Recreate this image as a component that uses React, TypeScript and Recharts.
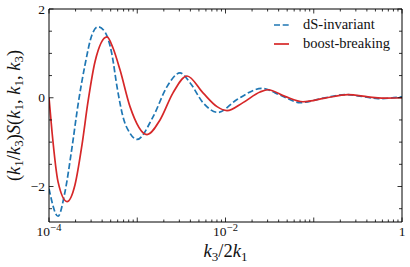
import React from 'react';
import { LineChart, Line, XAxis, YAxis } from 'recharts';

// dS-invariant (dashed blue)
const dsK = [1.0e-4, 1.265e-4, 1.518e-4, 1.823e-4, 2.132e-4, 2.558e-4, 3.071e-4, 3.592e-4, 4.311e-4, 5.175e-4, 5.895e-4, 6.895e-4, 8.277e-4, 9.936e-4, 1.509e-3, 2.174e-3, 3.051e-3, 3.96e-3, 5.559e-3, 8.222e-3, 1.35e-2, 2.593e-2, 4.367e-2, 6.985e-2, 0.134, 0.226, 0.381, 0.535, 1];
const dsS = [-2.05, -2.67, -2.12, -1.12, -0.16, 0.74, 1.42, 1.6, 1.48, 0.97, 0.25, -0.43, -0.8, -0.94, -0.43, 0.25, 0.56, 0.34, -0.11, -0.33, -0.04, 0.21, 0.04, -0.11, 0.0, 0.07, 0.02, -0.02, 0.02];

// boost-breaking (solid red)
const bbK = [1.0e-4, 1.081e-4, 1.265e-4, 1.6e-4, 1.971e-4, 2.365e-4, 2.767e-4, 3.321e-4, 4.541e-4, 5.311e-4, 6.375e-4, 8.277e-4, 1.29e-3, 1.811e-3, 2.542e-3, 3.662e-3, 5.559e-3, 8.013e-3, 1.04e-2, 1.579e-2, 2.461e-2, 3.032e-2, 4.724e-2, 7.553e-2, 0.134, 0.244, 0.412, 0.593, 1];
const bbS = [0.0, -0.76, -1.89, -2.34, -1.96, -1.06, -0.09, 0.81, 1.37, 1.12, 0.63, -0.2, -0.83, -0.5, 0.11, 0.49, 0.11, -0.2, -0.29, -0.11, 0.13, 0.18, 0.03, -0.09, -0.01, 0.07, 0.02, -0.01, 0.0];

const xMajor = [1e-4, 1e-3, 1e-2, 1e-1, 1];
const xLabels: Record<string, [string, string]> = { '0.0001': ['10', '−4'], '0.01': ['10', '−2'], '1': ['1', ''] };
const yMajor = [-2, 0, 2];
const yMinor = [-2.5, -1.5, -1, -0.5, 0.5, 1, 1.5];
const yLabels: Record<string, string> = { '-2': '−2', '0': '0', '2': '2' };

const xMinor: number[] = [];
for (let d = 0; d < 4; d++) {
  for (let m = 2; m < 10; m++) xMinor.push(Number((m * Math.pow(10, d - 4)).toPrecision(3)));
}
const xTicks = [...xMajor, ...xMinor].sort((a, b) => a - b);
const yTicks = [...yMajor, ...yMinor].sort((a, b) => a - b);

const dsData = dsK.map((k, i) => ({ k, s: dsS[i] }));
const bbData = bbK.map((k, i) => ({ k, s: bbS[i] }));

const BLUE = '#1f77b4';
const RED = '#d62728';
const INK = '#111';
const txt = { fontFamily: 'Liberation Serif' };

const isMajorX = (v: number) => xMajor.some((m) => Math.abs(m - v) / m < 1e-6);
const isMajorY = (v: number) => yMajor.includes(v);

const BottomTick = ({ x, y, payload }: any) => {
  const v = payload.value;
  const major = isMajorX(v);
  const lab = xLabels[String(v)];
  return (
    <g>
      <line x1={x} x2={x} y1={y} y2={y - (major ? 4.5 : 2.5)} stroke="#000" strokeWidth={0.8} />
      {lab && (
        <text x={x} y={y + 14} textAnchor="middle" style={txt} fontSize={13.5} fill={INK}>
          {lab[0]}
          {lab[1] && <tspan dy={-5.5} dx={0.5} fontSize={10.5}>{lab[1]}</tspan>}
        </text>
      )}
    </g>
  );
};

const TopTick = ({ x, y, payload }: any) => {
  const major = isMajorX(payload.value);
  return <line x1={x} x2={x} y1={y} y2={y + (major ? 4.5 : 2.5)} stroke="#000" strokeWidth={0.8} />;
};

const LeftTick = ({ x, y, payload }: any) => {
  const v = payload.value;
  const major = isMajorY(v);
  return (
    <g>
      <line x1={x} x2={x + (major ? 4.5 : 3)} y1={y} y2={y} stroke="#000" strokeWidth={0.8} />
      {major && (
        <text x={x - 4} y={y + 4.5} textAnchor="end" style={txt} fontSize={13.5} fill={INK}>
          {yLabels[String(v)]}
        </text>
      )}
    </g>
  );
};

const RightTick = ({ x, y, payload }: any) => {
  const major = isMajorY(payload.value);
  return <line x1={x} x2={x - (major ? 4.5 : 3)} y1={y} y2={y} stroke="#000" strokeWidth={0.8} />;
};

const Sub = ({ children }: any) => (
  <tspan fontStyle="normal" fontSize={13} dy={4}>{children}</tspan>
);

const YTitle = ({ viewBox }: any) => {
  const cx = 14;
  const cy = viewBox.y + viewBox.height / 2;
  return (
    <text x={cx} y={cy} transform={`rotate(-90 ${cx} ${cy})`} textAnchor="middle" dominantBaseline="central" style={txt} fontSize={18.5} fill={INK}>
      <tspan>(</tspan><tspan fontStyle="italic">k</tspan><Sub>1</Sub>
      <tspan dy={-4}>/</tspan><tspan fontStyle="italic">k</tspan><Sub>3</Sub>
      <tspan dy={-4}>)</tspan><tspan fontStyle="italic">S</tspan><tspan>(</tspan>
      <tspan fontStyle="italic">k</tspan><Sub>1</Sub><tspan dy={-4}>, </tspan>
      <tspan fontStyle="italic">k</tspan><Sub>1</Sub><tspan dy={-4}>, </tspan>
      <tspan fontStyle="italic">k</tspan><Sub>3</Sub><tspan dy={-4}>)</tspan>
    </text>
  );
};

const XTitle = ({ viewBox }: any) => {
  const cx = viewBox.x + viewBox.width / 2;
  return (
    <text x={cx} y={257} textAnchor="middle" style={txt} fontSize={18.5} fill={INK}>
      <tspan fontStyle="italic">k</tspan><Sub>3</Sub>
      <tspan dy={-4}>/2</tspan><tspan fontStyle="italic">k</tspan><Sub>1</Sub>
    </text>
  );
};

const LegendBox = () => (
  <svg width={138} height={40} style={{ position: 'absolute', left: 272, top: 15 }}>
    <line x1={2} x2={17} y1={10} y2={10} stroke={BLUE} strokeWidth={1.7} strokeDasharray="6 2.7" />
    <text x={31} y={14} style={txt} fontSize={14.5} fill={INK}>dS-invariant</text>
    <line x1={2} x2={17} y1={29} y2={29} stroke={RED} strokeWidth={1.7} />
    <text x={31} y={33} style={txt} fontSize={14.5} fill={INK}>boost-breaking</text>
  </svg>
);

export default function App() {
  return (
    <div style={{ position: 'absolute', left: 0, top: 0, width: 410, height: 267, background: '#fff' }}>
      <LineChart width={410} height={267} margin={{ top: 8, right: 7, bottom: 0, left: 0 }}>
        <XAxis xAxisId="b" dataKey="k" type="number" scale="log" domain={[1e-4, 1]} allowDataOverflow
          ticks={xTicks} interval={0} height={45} tickSize={0} tickMargin={0} tickLine={false}
          tick={<BottomTick />} stroke="#000" label={<XTitle />} />
        <XAxis xAxisId="t" orientation="top" dataKey="k" type="number" scale="log" domain={[1e-4, 1]} allowDataOverflow
          ticks={xTicks} interval={0} height={1} tickSize={0} tickMargin={0} tickLine={false}
          tick={<TopTick />} stroke="#000" />
        <YAxis yAxisId="l" type="number" domain={[-2.8, 2]} allowDataOverflow ticks={yTicks} interval={0}
          width={49} tickSize={0} tickMargin={0} tickLine={false} tick={<LeftTick />} stroke="#000" label={<YTitle />} />
        <YAxis yAxisId="r" orientation="right" type="number" domain={[-2.8, 2]} allowDataOverflow ticks={yTicks} interval={0}
          width={1} tickSize={0} tickMargin={0} tickLine={false} tick={<RightTick />} stroke="#000" />
        <Line xAxisId="b" yAxisId="l" data={dsData} dataKey="s" name="dS-invariant" type="monotone" stroke={BLUE}
          strokeWidth={1.7} strokeDasharray="6 2.7" dot={false} isAnimationActive={false} />
        <Line xAxisId="b" yAxisId="l" data={bbData} dataKey="s" name="boost-breaking" type="monotone" stroke={RED}
          strokeWidth={1.7} dot={false} isAnimationActive={false} />
      </LineChart>
      <LegendBox />
    </div>
  );
}
